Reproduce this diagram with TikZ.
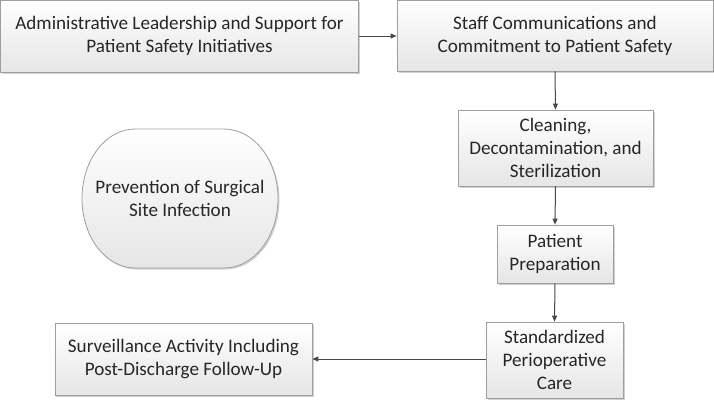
\documentclass[tikz,border=0pt]{standalone}
\usepackage{fontspec}
\setmainfont{Carlito}
\usetikzlibrary{arrows.meta,shadows}
\begin{document}
\begin{tikzpicture}[x=1bp,y=-1bp,
  boxfill/.style={top color=white,bottom color=black!10,draw=black!38,line width=0.8bp,
    drop shadow={shadow xshift=1.5bp,shadow yshift=-1.5bp,opacity=0.18,fill=black}},
  box/.style={boxfill,rectangle,align=center,inner sep=0pt,
    font=\fontsize{19.2}{23}\selectfont,text=black!85},
  label/.style={align=center,inner sep=0pt,font=\fontsize{19.2}{23}\selectfont,text=black!85},
  conn/.style={draw=black!72,line width=1bp,-{Triangle[length=6bp,width=5bp]}}
]
\path[use as bounding box] (0,0) rectangle (714,400);
\node[box,minimum width=358bp,minimum height=72bp] (b1) at (179.5,36) {Administrative Leadership and Support for\\Patient Safety Initiatives};
\node[box,minimum width=316bp,minimum height=71bp] (b2) at (555,35.5) {Staff Communications and\\Commitment to Patient Safety};
\node[box,minimum width=195bp,minimum height=76bp] (b3) at (555.5,148) {Cleaning,\\Decontamination, and\\Sterilization};
\node[box,minimum width=116bp,minimum height=58bp] (b4) at (555,254) {Patient\\Preparation};
\node[box,minimum width=137bp,minimum height=76bp] (b5) at (554.5,360) {Standardized\\Perioperative\\Care};
\node[box,minimum width=257bp,minimum height=72bp] (b6) at (183.5,359) {Surveillance Activity Including\\Post-Discharge Follow-Up};
% rounded terminator shape
\path[boxfill] (135,129) -- (224,129)
  arc[start angle=-90,end angle=90,x radius=54,y radius=69.5]
  -- (135,268)
  arc[start angle=90,end angle=270,x radius=53,y radius=69.5] -- cycle;
\node[label] (b0) at (180,198.5) {Prevention of Surgical\\Site Infection};
\draw[conn] (b1.east) -- (b1.east -| b2.west);
\draw[conn] (b2.south) -- (b3.north);
\draw[conn] (b3.south) -- (b4.north);
\draw[conn] (b4.south) -- (b5.north);
\draw[conn] (b5.west |- b6.east) -- (b6.east);
\end{tikzpicture}
\end{document}
